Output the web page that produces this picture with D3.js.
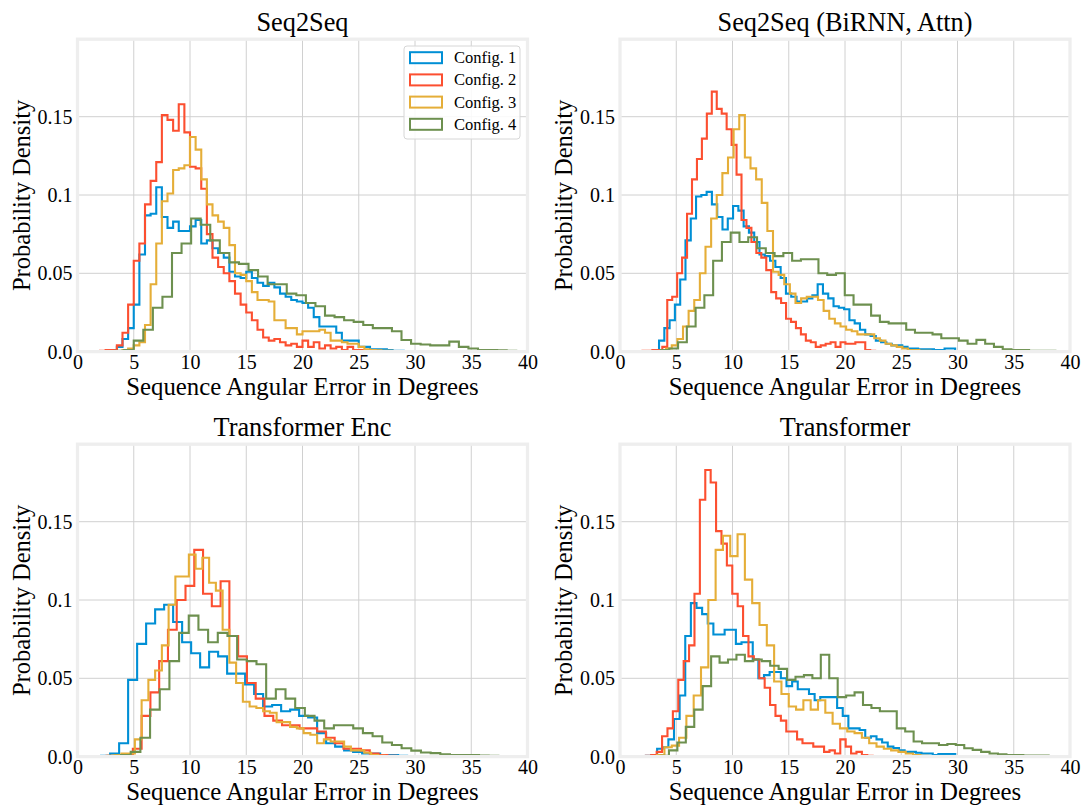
<!DOCTYPE html>
<html>
<head>
<meta charset="utf-8">
<script src="https://cdn.jsdelivr.net/npm/d3@7"></script>
<style>
  html, body { margin: 0; padding: 0; background: #ffffff; }
  svg { display: block; font-family: "Liberation Serif", "Times New Roman", serif; }
</style>
</head>
<body>
<svg id="chart" width="1086" height="812"></svg>
<script>
// ---------------- data ----------------
const titles = ["Seq2Seq", "Seq2Seq (BiRNN, Attn)", "Transformer Enc", "Transformer"];
const configs = ["Config. 1", "Config. 2", "Config. 3", "Config. 4"];
const colors = ["#008fd5", "#fc4f30", "#e5ae38", "#6d904f"];
const xTicks = [0, 5, 10, 15, 20, 25, 30, 35, 40];
const yTicks = [0, 0.05, 0.1, 0.15];
const yTickLabels = ["0.0", "0.05", "0.1", "0.15"];
const xLabel = "Sequence Angular Error in Degrees";
const yLabel = "Probability Density";

// histogram bins: first bin edge and bin width per config (Config. 1..4)
const seq2seqStart = [3.0, 2.0, 4.0, 3.3];
const seq2seqWidth = [0.5, 0.5, 0.5, 0.85];
const seq2seqC1 = [.001,.003,.008,.015,.030,.062,.087,.088,.105,.086,.079,.083,.077,.077,.080,.084,.069,.071,.066,.063,.060,.051,.048,.047,.051,.047,.044,.042,.044,.041,.037,.035,.033,.032,.031,.028,.022,.016,.016,.016,.012,.007,.007,.007,.003,.003,.0015,.0015,.0015,.001,.0005,.0005,.0003,.0003];
const seq2seqC2 = [.0005,.001,.001,.004,.012,.030,.058,.069,.094,.109,.121,.151,.148,.141,.158,.140,.118,.117,.104,.075,.060,.054,.050,.045,.037,.030,.025,.020,.014,.009,.007,.008,.006,.004,.005,.003,.007,.003,.006,.002,.004,.002,.003,.001,.003,.001,.001,.0005];
const seq2seqC3 = [.001,.002,.004,.006,.017,.043,.069,.096,.101,.116,.117,.119,.137,.129,.110,.094,.087,.083,.079,.068,.050,.049,.045,.038,.033,.033,.032,.020,.020,.015,.015,.011,.013,.013,.013,.014,.012,.007,.007,.006,.005,.005,.003,.0015,.001,.0008,.0005,.0005,.0003,.0003,.0002,.0002];
const seq2seqC4 = [.0005,.001,.007,.014,.028,.035,.063,.069,.085,.081,.071,.063,.057,.056,.052,.048,.043,.043,.037,.036,.031,.029,.023,.022,.020,.019,.017,.015,.015,.013,.0074,.005,.0045,.004,.004,.0064,.003,.002,.001,.001,.0008,.0005];

const birnnStart = [3.0, 2.0, 3.6, 3.6];
const birnnWidth = [0.47, 0.44, 0.5, 0.78];
const birnnC1 = [.001,.007,.015,.020,.030,.046,.071,.085,.099,.100,.102,.094,.086,.078,.085,.093,.090,.080,.076,.070,.062,.061,.058,.054,.047,.037,.035,.032,.032,.034,.036,.043,.037,.034,.029,.028,.027,.020,.018,.014,.011,.010,.007,.006,.005,.004,.004,.003,.002,.002,.0015,.0015,.0015,.001,.001,.002,.002];
const birnnC2 = [.0005,.0005,.001,.001,.003,.033,.035,.050,.060,.088,.110,.123,.136,.152,.166,.155,.152,.142,.132,.113,.084,.079,.070,.063,.060,.052,.038,.034,.031,.021,.019,.015,.011,.007,.006,.003,.004,.005,.006,.003,.006,.005,.005,.006,.006,.001,.0005];
const birnnC3 = [.001,.002,.004,.008,.016,.026,.033,.050,.067,.085,.100,.114,.124,.142,.151,.124,.117,.110,.095,.077,.051,.049,.043,.037,.031,.034,.035,.035,.033,.026,.021,.018,.016,.014,.013,.011,.011,.011,.0085,.007,.005,.004,.003,.002,.001,.001,.0005,.0005];
const birnnC4 = [.001,.002,.006,.016,.028,.036,.058,.070,.076,.070,.073,.066,.063,.061,.063,.058,.059,.059,.050,.049,.050,.036,.030,.030,.023,.019,.018,.018,.014,.012,.012,.011,.0085,.0085,.007,.005,.0075,.005,.003,.0015,.001,.001,.0005,.0005,.0005];

const encStart = [2.1, 1.8, 2.7, 2.15];
const encWidth = [0.8, 0.78, 0.6, 0.86];
const encC1 = [.0005,.002,.0085,.049,.072,.085,.094,.097,.086,.073,.066,.057,.067,.064,.053,.053,.046,.040,.032,.033,.029,.030,.026,.025,.015,.0085,.0064,.004,.003,.002,.002,.001,.001,.0005];
const encC2 = [.0003,.0005,.001,.001,.005,.026,.041,.061,.081,.100,.109,.132,.104,.096,.112,.077,.064,.047,.037,.026,.023,.020,.020,.018,.018,.016,.012,.0085,.005,.005,.004,.002,.001,.0005];
const encC3 = [.0005,.001,.002,.002,.011,.036,.049,.055,.071,.097,.115,.115,.129,.120,.127,.111,.106,.081,.060,.047,.035,.032,.031,.029,.028,.022,.022,.019,.018,.015,.014,.0085,.011,.0096,.0096,.0064,.004,.004,.0025,.001,.0005];
const encC4 = [.0003,.0005,.001,.003,.012,.030,.043,.061,.079,.090,.081,.073,.079,.077,.062,.061,.059,.037,.043,.037,.031,.026,.023,.018,.020,.020,.018,.015,.013,.009,.0074,.0053,.0038,.0026,.0022,.0015,.001,.001,.001,.0006,.0005,.0004,.0003];

const trfStart = [2.3, 2.3, 3.3, 3.6];
const trfWidth = [0.5, 0.48, 0.65, 0.75];
const trfC1 = [.0005,.001,.005,.006,.011,.024,.039,.077,.098,.095,.091,.085,.078,.078,.081,.081,.072,.073,.073,.062,.050,.052,.054,.054,.050,.045,.048,.043,.043,.040,.036,.038,.038,.038,.031,.026,.018,.018,.017,.012,.013,.011,.009,.0064,.0055,.004,.003,.003,.0025,.002,.002,.001,.0017,.0017,.0017];
const trfC2 = [.0005,.001,.003,.013,.018,.029,.049,.061,.071,.104,.164,.183,.175,.144,.136,.122,.104,.096,.077,.064,.062,.050,.044,.033,.026,.023,.016,.016,.011,.0085,.0085,.0064,.0064,.003,.004,.002,.011,.0064,.002,.003,.001,.0005];
const trfC3 = [.001,.006,.007,.012,.026,.039,.057,.100,.132,.141,.128,.142,.113,.098,.084,.071,.048,.040,.032,.030,.036,.030,.036,.028,.021,.018,.016,.015,.012,.0085,.0064,.005,.004,.003,.002,.001,.0005];
const trfC4 = [.0005,.004,.009,.019,.030,.045,.064,.060,.062,.065,.061,.062,.061,.058,.056,.049,.051,.052,.050,.065,.050,.038,.039,.041,.033,.031,.029,.029,.018,.016,.0096,.0085,.0085,.0074,.008,.0074,.0053,.0043,.003,.002,.0015,.001,.001,.0006,.0006,.0006,.0004];

const xDomain = [0, 40];
const yDomain = [0, 0.1995];

// ---------------- layout ----------------
const svg = d3.select("#chart");
svg.append("rect").attr("width", 1086).attr("height", 812).attr("fill", "#ffffff");

const panelW = 450, panelH = 312.4;
const panels = [
  { title: titles[0], left: 77.5, top: 39.2, start: seq2seqStart, width: seq2seqWidth, series: [seq2seqC1, seq2seqC2, seq2seqC3, seq2seqC4], legend: true },
  { title: titles[1], left: 620, top: 39.2, start: birnnStart, width: birnnWidth, series: [birnnC1, birnnC2, birnnC3, birnnC4] },
  { title: titles[2], left: 77.5, top: 444.2, start: encStart, width: encWidth, series: [encC1, encC2, encC3, encC4] },
  { title: titles[3], left: 620, top: 444.2, start: trfStart, width: trfWidth, series: [trfC1, trfC2, trfC3, trfC4] }
];

const gridColor = "#d0d0d0";
const frameColor = "#eeeeee";
const textColor = "#000000";

panels.forEach(p => {
  const g = svg.append("g").attr("transform", `translate(${p.left},${p.top})`);
  const x = d3.scaleLinear().domain(xDomain).range([0, panelW]);
  const y = d3.scaleLinear().domain(yDomain).range([panelH, 0]);

  // grid
  g.append("g").selectAll("line").data(xTicks).join("line")
    .attr("x1", d => x(d)).attr("x2", d => x(d))
    .attr("y1", 0).attr("y2", panelH)
    .attr("stroke", gridColor).attr("stroke-width", 1);
  g.append("g").selectAll("line").data(yTicks).join("line")
    .attr("x1", 0).attr("x2", panelW)
    .attr("y1", d => y(d)).attr("y2", d => y(d))
    .attr("stroke", gridColor).attr("stroke-width", 1);

  // step histograms
  const line = d3.line().x(d => x(d[0])).y(d => y(d[1]));
  p.series.forEach((vals, k) => {
    const s = p.start[k], w = p.width[k];
    const pts = [[s, 0]];
    vals.forEach((v, i) => { pts.push([s + i * w, v]); pts.push([s + (i + 1) * w, v]); });
    pts.push([s + vals.length * w, 0]);
    g.append("path").attr("d", line(pts))
      .attr("fill", "none").attr("stroke", colors[k])
      .attr("stroke-width", 2.1).attr("stroke-linejoin", "miter");
  });

  // frame
  g.append("rect").attr("x", 0).attr("y", 0).attr("width", panelW).attr("height", panelH)
    .attr("fill", "none").attr("stroke", frameColor).attr("stroke-width", 3.3);

  // axes (tick labels only, no tick marks)
  const xAxis = d3.axisBottom(x).tickValues(xTicks).tickSize(0).tickPadding(0).tickFormat(d3.format("d"));
  const xa = g.append("g").attr("transform", `translate(0,${panelH})`).call(xAxis);
  xa.select(".domain").remove();
  xa.selectAll("text").attr("y", 17).attr("dy", null)
    .attr("font-size", 20).attr("font-family", "Liberation Serif").attr("fill", textColor);

  const yAxis = d3.axisLeft(y).tickValues(yTicks).tickSize(0).tickPadding(5)
    .tickFormat((d, i) => yTickLabels[i]);
  const ya = g.append("g").call(yAxis);
  ya.select(".domain").remove();
  ya.selectAll("text").attr("font-size", 20).attr("font-family", "Liberation Serif").attr("fill", textColor);

  // title & labels
  g.append("text").attr("x", panelW / 2).attr("y", -8.5).attr("text-anchor", "middle")
    .attr("font-size", 26.3).attr("fill", textColor).text(p.title);
  g.append("text").attr("x", panelW / 2).attr("y", panelH + 43.5).attr("text-anchor", "middle")
    .attr("font-size", 24.8).attr("fill", textColor).text(xLabel);
  g.append("text").attr("transform", `translate(-48,${panelH / 2}) rotate(-90)`)
    .attr("text-anchor", "middle").attr("font-size", 24.5).attr("fill", textColor).text(yLabel);

  // legend
  if (p.legend) {
    const lg = g.append("g").attr("transform", `translate(${404 - p.left},${46 - p.top})`);
    lg.append("rect").attr("x", 0).attr("y", 0).attr("width", 116).attr("height", 93)
      .attr("rx", 3).attr("fill", "#ffffff").attr("fill-opacity", 0.85)
      .attr("stroke", "#d6d6d6").attr("stroke-width", 1);
    configs.forEach((c, k) => {
      const cy = 11.7 + k * 22.2;
      lg.append("rect").attr("x", 6).attr("y", cy - 5.5).attr("width", 32).attr("height", 11)
        .attr("fill", "none").attr("stroke", colors[k]).attr("stroke-width", 2);
      lg.append("text").attr("x", 50).attr("y", cy + 5.5).attr("font-size", 16.5)
        .attr("fill", textColor).text(c);
    });
  }
});
</script>
</body>
</html>
